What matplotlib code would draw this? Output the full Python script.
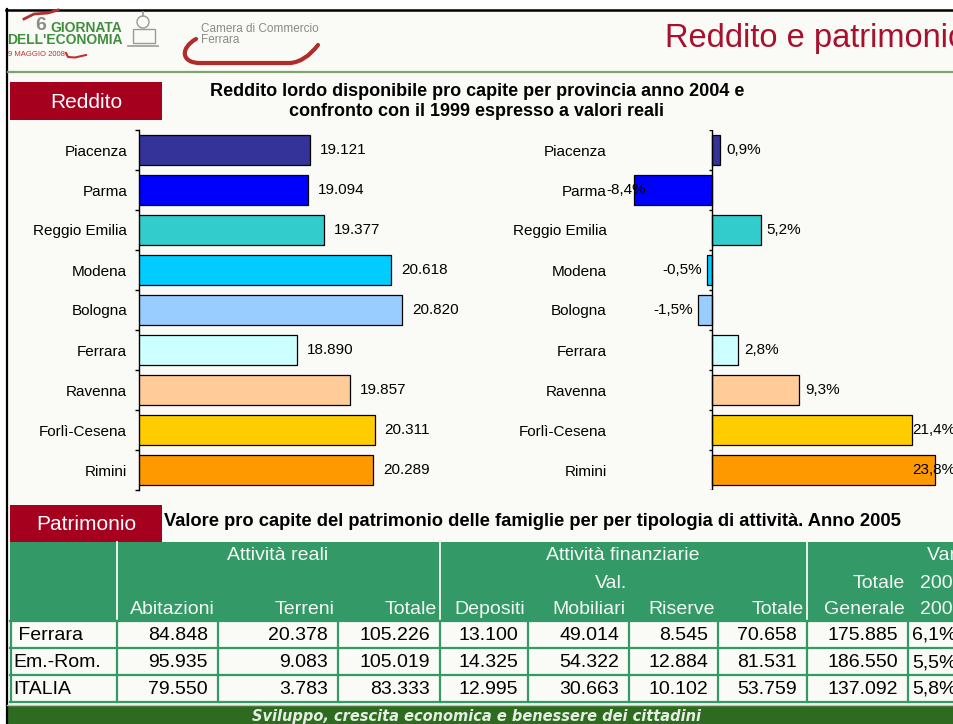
import matplotlib
matplotlib.use('Agg')
import matplotlib.pyplot as plt
from matplotlib.patches import Rectangle, PathPatch, Circle
from matplotlib.path import Path
import numpy as np

plt.rcParams['font.family'] = ['Liberation Sans', 'DejaVu Sans']

# --- data -------------------------------------------------------------
provinces = ['Piacenza', 'Parma', 'Reggio Emilia', 'Modena', 'Bologna',
             'Ferrara', 'Ravenna', 'Forlì-Cesena', 'Rimini']
reddito_2004 = [19121, 19094, 19377, 20618, 20820, 18890, 19857, 20311, 20289]
var_vs_1999 = [0.9, -8.4, 5.2, -0.5, -1.5, 2.8, 9.3, 21.4, 23.8]
bar_colors = ['#333399', '#0000ff', '#33cccc', '#00ccff', '#99ccff',
              '#ccffff', '#ffcc99', '#ffcc00', '#ff9900']

table_rows = [' Ferrara', 'Em.-Rom.', 'ITALIA']
abitazioni = [84848, 95935, 79550]
terreni = [20378, 9083, 3783]
totale_reali = [105226, 105019, 83333]
depositi = [13100, 14325, 12995]
val_mobiliari = [49014, 54322, 30663]
riserve = [8545, 12884, 10102]
totale_finanz = [70658, 81531, 53759]
totale_generale = [175885, 186550, 137092]
var_04_05 = [6.1, 5.5, 5.8]

W, H = 954, 724
RED = '#a6001f'
GREEN = '#339966'


def frac(x0, y0, x1, y1):
    return [x0 / W, 1 - y1 / H, (x1 - x0) / W, (y1 - y0) / H]


def it_num(v):
    return f"{v:,}".replace(',', '.')


def it_pct(v):
    return f"{v:.1f}".replace('.', ',') + '%'


fig = plt.figure(figsize=(W / 100, H / 100), dpi=100)
fig.patch.set_facecolor('white')

# background canvas in pixel coordinates
bg = fig.add_axes([0, 0, 1, 1], zorder=0)
bg.set_xlim(0, W)
bg.set_ylim(H, 0)
bg.axis('off')

bg.add_patch(Rectangle((7, 9), W, H, facecolor='#fafaf6', edgecolor='none'))
bg.plot([6, W], [9.5, 9.5], color='black', lw=1.8)
bg.plot([7, 7], [9, H], color='black', lw=1.6)
bg.plot([8, W], [72, 72], color='#7ea36e', lw=1.6)

# header logo
bg.plot([24, 34, 48, 58], [19, 14, 13, 10], color='#b03030', lw=2)
bg.text(41, 25, '6', fontsize=14, weight='bold', color='#8c8c8c', ha='center', va='center')
bg.text(50, 27.5, 'GIORNATA', fontsize=10, weight='bold', color='#3f8f3f', va='center')
bg.text(7, 40, "DELL'ECONOMIA", fontsize=10, weight='bold', color='#3f8f3f', va='center')
bg.text(8, 54, '9 MAGGIO 2008', fontsize=5.5, color='#c03030', va='center')
bg.plot([66, 68, 75, 86], [53, 57, 57.5, 55], color='#c03030', lw=1.5)
bg.add_patch(Circle((143, 22), 6, fill=False, ec='#9a9a9a', lw=1))
bg.add_patch(Rectangle((133, 29), 22, 14, fill=False, ec='#9a9a9a', lw=1))
bg.plot([128, 158], [46, 46], color='#9a9a9a', lw=1.2)
bg.plot([143, 143], [12, 16], color='#9a9a9a', lw=1.2)
bg.text(201, 29, 'Camera di Commercio', fontsize=8.5, color='#8a8a8a', va='center')
bg.text(201, 40, 'Ferrara', fontsize=8.5, color='#8a8a8a', va='center')
swoosh = Path([(196, 39), (180, 48), (181, 63), (200, 63), (290, 63), (305, 62), (318, 45)],
              [Path.MOVETO, Path.CURVE4, Path.CURVE4, Path.CURVE4, Path.LINETO,
               Path.CURVE3, Path.CURVE3])
bg.add_patch(PathPatch(swoosh, fill=False, ec='#b22b2b', lw=3, capstyle='round'))

bg.text(665, 39, 'Reddito e patrimonio', fontsize=23.5, color='#a8102e', va='center')

# section boxes
bg.add_patch(Rectangle((10, 82), 152, 38, facecolor=RED, edgecolor='none'))
bg.text(86, 102, 'Reddito', fontsize=15, color='white', ha='center', va='center')
bg.add_patch(Rectangle((10, 505), 152, 37, facecolor=RED, edgecolor='none'))
bg.text(86, 524, 'Patrimonio', fontsize=15, color='white', ha='center', va='center')

bg.text(477, 91, 'Reddito lordo disponibile pro capite per provincia anno 2004 e',
        fontsize=13, weight='bold', ha='center', va='center')
bg.text(477, 112, 'confronto con il 1999 espresso a valori reali',
        fontsize=13, weight='bold', ha='center', va='center')
bg.text(164, 522, 'Valore pro capite del patrimonio delle famiglie per per tipologia di attività. Anno 2005',
        fontsize=13.2, weight='bold', ha='left', va='center')

# --- left chart: reddito 2004 ----------------------------------------
ypos = np.arange(len(provinces))
boundaries = np.arange(-0.5, len(provinces), 1)

ax1 = fig.add_axes(frac(139, 130, 467, 490), zorder=1)
ax1.patch.set_alpha(0)
ax1.barh(ypos, reddito_2004, height=0.75, color=bar_colors, edgecolor='black', lw=0.9)
ax1.set_xlim(16000, 22000)
ax1.set_ylim(len(provinces) - 0.5, -0.5)
for s in ['top', 'right', 'bottom']:
    ax1.spines[s].set_visible(False)
ax1.spines['left'].set_linewidth(1)
ax1.set_xticks([])
ax1.set_yticks(ypos, provinces)
ax1.set_yticks(boundaries, minor=True)
ax1.tick_params(axis='y', which='major', length=0, pad=8.5, labelsize=11)
ax1.tick_params(axis='y', which='minor', length=3, width=1)
for i, v in enumerate(reddito_2004):
    ax1.annotate(it_num(v), (v, i), xytext=(10, 0), textcoords='offset pixels',
                 ha='left', va='center', fontsize=11)

# --- right chart: variation vs 1999 ----------------------------------
ax2 = fig.add_axes(frac(612, 130, 1000, 490), zorder=1)
ax2.patch.set_alpha(0)
ax2.barh(ypos, var_vs_1999, height=0.75, color=bar_colors, edgecolor='black', lw=0.9)
ax2.set_xlim(-10.7, 30.8)
ax2.set_ylim(len(provinces) - 0.5, -0.5)
for s in ax2.spines.values():
    s.set_visible(False)
ax2.axvline(0, color='black', lw=1)
ax2.hlines(boundaries, -0.35, 0, color='black', lw=1)
ax2.set_xticks([])
ax2.set_yticks(ypos, provinces)
ax2.tick_params(axis='y', length=0, pad=3.6, labelsize=11)
for i, v in enumerate(var_vs_1999):
    lab = it_pct(v)
    if v > 20:
        ax2.text(26.0, i, lab, ha='right', va='center', fontsize=11, clip_on=False)
    elif v < -5:
        ax2.text(-11.35, i, lab, ha='left', va='center', fontsize=11, clip_on=False)
    elif v < 0:
        ax2.annotate(lab, (v, i), xytext=(-5, 0), textcoords='offset pixels',
                     ha='right', va='center', fontsize=11)
    else:
        ax2.annotate(lab, (v, i), xytext=(6, 0), textcoords='offset pixels',
                     ha='left', va='center', fontsize=11)

# --- table: patrimonio ----------------------------------------------
col_edges = [11, 117, 218, 338, 440, 528, 629, 718, 807, 908, 1000]
hdr_top, hdr_bot = 542, 621
row_lines = [621, 648, 675, 702]

bg.add_patch(Rectangle((10, hdr_top), 990, hdr_bot - hdr_top, facecolor=GREEN, edgecolor='none'))
for x in [117, 440, 807]:
    bg.plot([x, x], [hdr_top, hdr_bot - 1], color='#e8f0ea', lw=1.4)

hdr_kw = dict(fontsize=14, color='#f4f8f4', va='center')
bg.text(278, 555, 'Attività reali', ha='center', **hdr_kw)
bg.text(623, 555, 'Attività finanziarie', ha='center', **hdr_kw)
bg.text(927, 555, 'Var. %', ha='left', **hdr_kw)
bg.text(627, 583, 'Val.', ha='right', **hdr_kw)
bg.text(905, 583, 'Totale', ha='right', **hdr_kw)
bg.text(920, 583, '2004-', ha='left', **hdr_kw)
bg.text(905, 609, 'Generale', ha='right', **hdr_kw)
bg.text(920, 609, '2005', ha='left', **hdr_kw)
sub_heads = ['Abitazioni', 'Terreni', 'Totale', 'Depositi', 'Mobiliari', 'Riserve', 'Totale']
for k, lab in enumerate(sub_heads):
    bg.text(col_edges[k + 2] - 3, 609, lab, ha='right', **hdr_kw)

for y in row_lines:
    bg.plot([10, W], [y, y], color=GREEN, lw=1.6)
for x in col_edges[:-1]:
    bg.plot([x, x], [row_lines[0], row_lines[-1]], color=GREEN, lw=1.6)

num_cols = [abitazioni, terreni, totale_reali, depositi, val_mobiliari,
            riserve, totale_finanz, totale_generale]
for r, name in enumerate(table_rows):
    yc = (row_lines[r] + row_lines[r + 1]) / 2 + 1
    bg.text(13, yc, name, fontsize=14, ha='left', va='center')
    for c, col in enumerate(num_cols):
        bg.text(col_edges[c + 2] - 10, yc, it_num(col[r]), fontsize=14, ha='right', va='center')
    bg.text(col_edges[9] + 4, yc, it_pct(var_04_05[r]), fontsize=14, ha='left', va='center')

# footer
bg.add_patch(Rectangle((7, 705), W, 20, facecolor='#2e6b20', edgecolor='none'))
bg.plot([7, W], [704.5, 704.5], color='#b8c8b0', lw=1)
bg.text(477, 716, 'Sviluppo, crescita economica e benessere dei cittadini',
        fontsize=10.5, weight='bold', style='italic', color='#e6eee4', ha='center', va='center',
        family='DejaVu Sans')

fig.savefig('out.png', dpi=100)
